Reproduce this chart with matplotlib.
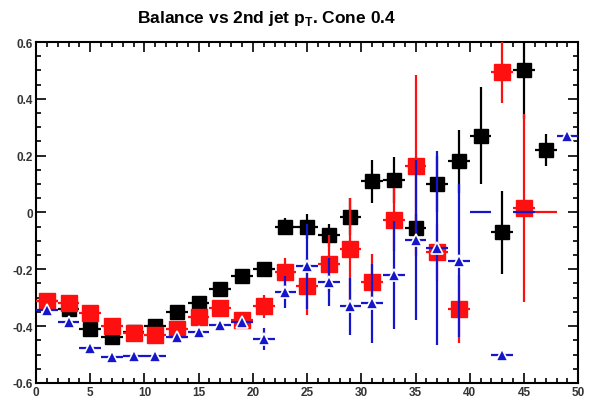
import numpy as np
import matplotlib
matplotlib.use('Agg')
import matplotlib.pyplot as plt
from matplotlib.ticker import MultipleLocator

plt.rcParams['font.family'] = ['Liberation Sans', 'DejaVu Sans']
plt.rcParams['mathtext.fontset'] = 'custom'
plt.rcParams['mathtext.bf'] = 'Liberation Sans:bold'

# bin centres (bin width 2)
x = np.arange(1, 50, 2)
nan = np.nan

# black squares
black_y = [-0.31, -0.34, -0.41, -0.44, -0.42, -0.40, -0.35, -0.32, -0.27, -0.225,
           -0.20, -0.05, -0.05, -0.08, -0.015, 0.11, 0.115, -0.055, 0.10, 0.18,
           0.27, -0.07, 0.50, 0.22, nan]
black_err = [0.01, 0.01, 0.01, 0.01, 0.01, 0.01, 0.012, 0.015, 0.015, 0.015,
             0.02, 0.03, 0.045, 0.04, 0.065, 0.075, 0.08, 0.05, 0.10, 0.11,
             0.17, 0.145, 0.17, 0.055, nan]

# red squares
red_y = [-0.31, -0.32, -0.355, -0.40, -0.425, -0.43, -0.41, -0.368, -0.336, -0.379,
         -0.33, -0.21, -0.26, -0.18, -0.13, -0.245, -0.025, 0.165, -0.14, -0.34,
         nan, 0.495, 0.015, nan, nan]
red_err = [0.01, 0.01, 0.01, 0.01, 0.01, 0.01, 0.01, 0.015, 0.02, 0.02,
           0.04, 0.05, 0.1, 0.1, 0.18, 0.1, 0.11, 0.32, 0.1, 0.12,
           nan, 0.11, 0.33, nan, nan]
red_empty = [47]

# blue triangles
blue_y = [-0.345, -0.385, -0.477, -0.51, -0.505, -0.505, -0.44, -0.42, -0.396, -0.386,
          -0.445, -0.28, -0.19, -0.245, -0.33, -0.32, -0.22, -0.097, -0.125, -0.17,
          nan, -0.50, nan, nan, 0.27]
blue_err = [0.01, 0.01, 0.01, 0.01, 0.01, 0.01, 0.01, 0.01, 0.01, 0.02,
            0.04, 0.055, 0.15, 0.085, 0.1, 0.14, 0.19, 0.28, 0.34, 0.27,
            nan, 0.01, nan, nan, 0.02]
blue_empty = [41, 45]

fig = plt.figure(figsize=(5.9, 4.02), dpi=100)
ax = fig.add_axes([0.061, 0.045, 0.919, 0.848])

ax.errorbar(x, black_y, xerr=1, yerr=black_err, fmt='s', color='black',
            ms=9.5, elinewidth=1.6, capsize=0, zorder=3)
ax.errorbar(x, red_y, xerr=1, yerr=red_err, fmt='s', color='#ff1010',
            ms=11.5, elinewidth=1.6, capsize=0, zorder=4)
ax.errorbar(x, blue_y, xerr=1, yerr=blue_err, fmt='^', color='#1515cc',
            ms=8.5, mec='white', mew=1.2, elinewidth=1.6, capsize=0, zorder=5)
# empty bins: only the horizontal bin line at zero
for xe in red_empty:
    ax.hlines(0, xe - 1, xe + 1, color='#ff1010', lw=1.6, zorder=4)
for xe in blue_empty:
    ax.hlines(0, xe - 1, xe + 1, color='#1515cc', lw=1.6, zorder=5)

ax.set_xlim(0, 50)
ax.set_ylim(-0.6, 0.6)
ax.xaxis.set_major_locator(MultipleLocator(5))
ax.xaxis.set_minor_locator(MultipleLocator(1))
ax.yaxis.set_major_locator(MultipleLocator(0.2))
ax.yaxis.set_minor_locator(MultipleLocator(0.05))
ax.tick_params(which='both', direction='in', top=True, right=True,
               labelsize=8.5, labelcolor='#333333', width=1.2, pad=2)
ax.tick_params(which='major', length=7)
ax.tick_params(which='minor', length=3.5)
ax.set_yticks(np.arange(-0.6, 0.61, 0.2))
ax.set_yticklabels(['-0.6', '-0.4', '-0.2', '0', '0.2', '0.4', '0.6'])
for lab in ax.get_xticklabels() + ax.get_yticklabels():
    lab.set_fontweight('bold')
for sp in ax.spines.values():
    sp.set_linewidth(1.5)

fig.text(0.452, 0.955, r'Balance vs 2nd jet p$_\mathbf{T}$. Cone 0.4',
         ha='center', va='center', fontsize=12.5, fontweight='bold')

fig.savefig('out.png', dpi=100)
